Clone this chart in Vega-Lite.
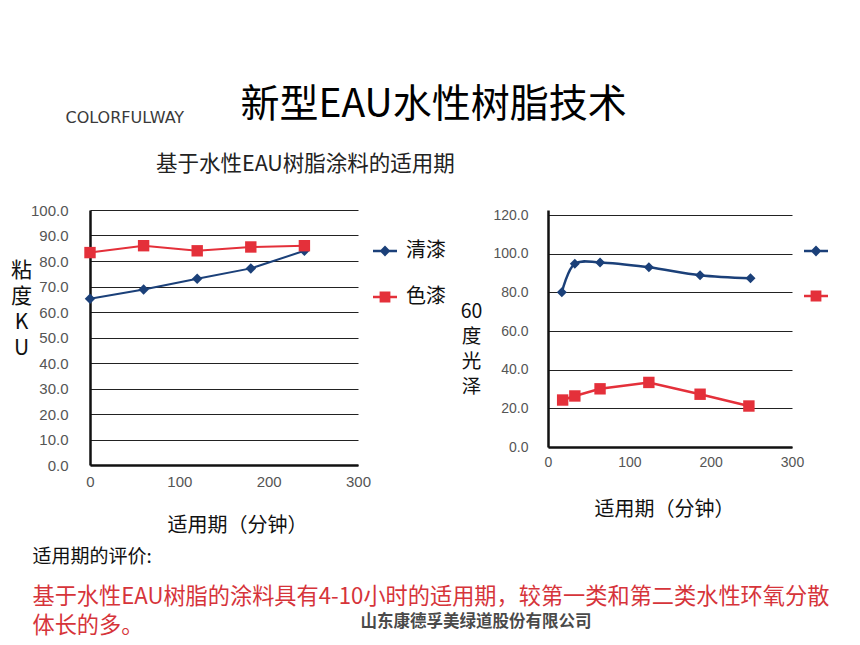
{
  "$schema": "https://vega.github.io/schema/vega-lite/v6.json",
  "background": "white",
  "padding": {"left": 10, "top": 85, "right": 0, "bottom": 0},
  "config": {
    "font": "Noto Sans CJK SC",
    "view": {"stroke": null},
    "axis": {
      "domainColor": "#111111",
      "domainWidth": 2.5,
      "gridColor": "#222222",
      "gridWidth": 1,
      "ticks": false,
      "tickSize": 0,
      "labelFlush": false,
      "labelColor": "#555555",
      "labelFont": "Liberation Sans",
      "titleFont": "Noto Sans CJK SC",
      "titleColor": "#111111",
      "titleFontWeight": "normal"
    },
    "legend": {"labelFont": "Noto Sans CJK SC", "labelFontSize": 20, "labelColor": "#111111"},
    "title": {"anchor": "start", "fontWeight": "normal"}
  },
  "title": {"text": "新型EAU水性树脂技术", "fontSize": 39, "color": "#000000", "dx": 230, "offset": -15, "anchor": "start"},
  "vconcat": [
    {
      "title": {"text": "COLORFULWAY", "font": "DejaVu Sans", "fontSize": 16, "color": "#3a3a3a", "dx": 55, "offset": 28, "anchor": "start"},
      "vconcat": [
        {
          "title": {"text": "山东康德孚美绿道股份有限公司", "orient": "bottom", "fontSize": 16.5, "fontWeight": "bold", "color": "#4a4a4a", "dx": 350, "offset": -23, "anchor": "start"},
          "vconcat": [
            {
              "title": {
                "text": "适用期的评价:",
                "orient": "bottom",
                "anchor": "start",
                "fontSize": 19,
                "color": "#111111",
                "dx": 22,
                "offset": 13,
                "subtitle": ["基于水性EAU树脂的涂料具有4-10小时的适用期，较第一类和第二类水性环氧分散", "体长的多。"],
                "subtitleFont": "Noto Sans CJK SC",
                "subtitleFontSize": 22.2,
                "subtitleColor": "#d6343a",
                "subtitleLineHeight": 29,
                "subtitlePadding": 19
              },
              "bounds": "flush",
              "spacing": 190,
              "resolve": {"scale": {"color": "independent", "x": "independent", "y": "independent"}, "legend": {"color": "independent"}},
              "hconcat": [
                {
                  "width": 268,
                  "height": 255,
                  "title": {"text": "基于水性EAU树脂涂料的适用期", "fontSize": 21.5, "color": "#222222", "frame": "group", "anchor": "start", "dx": 66, "offset": 28},
                  "data": {"values": [
                    {"t": 0, "v": 65.2, "s": "清漆"},
                    {"t": 60, "v": 68.8, "s": "清漆"},
                    {"t": 120, "v": 73.0, "s": "清漆"},
                    {"t": 180, "v": 77.1, "s": "清漆"},
                    {"t": 240, "v": 84.0, "s": "清漆"},
                    {"t": 0, "v": 83.3, "s": "色漆"},
                    {"t": 60, "v": 86.0, "s": "色漆"},
                    {"t": 120, "v": 84.0, "s": "色漆"},
                    {"t": 180, "v": 85.5, "s": "色漆"},
                    {"t": 240, "v": 86.0, "s": "色漆"}
                  ]},
                  "encoding": {
                    "x": {"field": "t", "type": "quantitative", "scale": {"domain": [0, 300], "nice": false},
                      "axis": {"values": [0, 100, 200, 300], "grid": false, "labelFontSize": 15, "labelPadding": 9,
                        "title": "适用期（分钟）", "titleFontSize": 20, "titleX": 147, "titleY": 60, "titleBaseline": "middle", "titleAlign": "center"}},
                    "y": {"field": "v", "type": "quantitative", "scale": {"domain": [0, 100], "nice": false},
                      "axis": {"values": [0, 10, 20, 30, 40, 50, 60, 70, 80, 90, 100], "format": ".1f", "labelFontSize": 15, "labelPadding": 22,
                        "title": ["粘", "度", "K", "U"], "titleAngle": 0, "titleFontSize": 21, "titleLineHeight": 26, "titleX": -69, "titleY": 49, "titleAlign": "center", "titleBaseline": "top"}}
                  },
                  "layer": [
                    {"transform": [{"filter": {"field": "s", "equal": "清漆"}}],
                      "mark": {"type": "line", "strokeWidth": 2, "color": "#1b4079"}},
                    {"transform": [{"filter": {"field": "s", "equal": "色漆"}}],
                      "mark": {"type": "line", "strokeWidth": 2, "color": "#e4303a"}},
                    {"transform": [{"filter": {"field": "s", "equal": "清漆"}}],
                      "mark": {"type": "point", "shape": "diamond", "filled": true, "opacity": 1, "size": 110},
                      "encoding": {"color": {"field": "s", "type": "nominal", "scale": {"domain": ["清漆"], "range": ["#1b4079"]},
                        "legend": {"orient": "none", "legendX": 283, "legendY": 29, "padding": 0, "title": null,
                          "symbolType": "M-1,-0.1H1V0.1H-1Z M0,-0.45L0.45,0L0,0.45L-0.45,0Z", "symbolSize": 576,
                          "symbolFillColor": "#1b4079", "symbolStrokeWidth": 0, "symbolOpacity": 1,
                          "labelOffset": 9, "labelFontSize": 20, "labelColor": "#111111"}}}},
                    {"transform": [{"filter": {"field": "s", "equal": "色漆"}}],
                      "mark": {"type": "point", "shape": "square", "filled": true, "opacity": 1, "size": 130},
                      "encoding": {"color": {"field": "s", "type": "nominal", "scale": {"domain": ["色漆"], "range": ["#e4303a"]},
                        "legend": {"orient": "none", "legendX": 283, "legendY": 75, "padding": 0, "title": null,
                          "symbolType": "M-1,-0.1H1V0.1H-1Z M-0.45,-0.45H0.45V0.45H-0.45Z", "symbolSize": 576,
                          "symbolFillColor": "#e4303a", "symbolStrokeWidth": 0, "symbolOpacity": 1,
                          "labelOffset": 9, "labelFontSize": 20, "labelColor": "#111111"}}}}
                  ],
                  "resolve": {"scale": {"color": "independent"}, "legend": {"color": "independent"}}
                },
                {
                  "width": 244,
                  "height": 237,
                  "data": {"values": [
                    {"t": 17, "v": 80.0, "s": "清漆"},
                    {"t": 33, "v": 94.8, "s": "清漆"},
                    {"t": 64, "v": 95.5, "s": "清漆"},
                    {"t": 124, "v": 93.0, "s": "清漆"},
                    {"t": 187, "v": 88.9, "s": "清漆"},
                    {"t": 249, "v": 87.3, "s": "清漆"},
                    {"t": 18, "v": 24.3, "s": "色漆"},
                    {"t": 33, "v": 26.4, "s": "色漆"},
                    {"t": 64, "v": 30.1, "s": "色漆"},
                    {"t": 124, "v": 33.4, "s": "色漆"},
                    {"t": 187, "v": 27.3, "s": "色漆"},
                    {"t": 247, "v": 21.2, "s": "色漆"}
                  ]},
                  "encoding": {
                    "x": {"field": "t", "type": "quantitative", "scale": {"domain": [0, 300], "nice": false},
                      "axis": {"values": [0, 100, 200, 300], "grid": false, "labelFontSize": 14, "labelPadding": 8,
                        "title": "适用期（分钟）", "titleFontSize": 20, "titleX": 116, "titleY": 62, "titleBaseline": "middle", "titleAlign": "center"}},
                    "y": {"field": "v", "type": "quantitative", "scale": {"domain": [0, 122.6], "nice": false},
                      "axis": {"values": [0, 20, 40, 60, 80, 100, 120], "format": ".1f", "labelFontSize": 14, "labelPadding": 20,
                        "title": ["60", "度", "光", "泽"], "titleAngle": 0, "titleFontSize": 19.5, "titleLineHeight": 25, "titleX": -77, "titleY": 92, "titleAlign": "center", "titleBaseline": "top"}}
                  },
                  "layer": [
                    {"transform": [{"filter": {"field": "s", "equal": "清漆"}}],
                      "mark": {"type": "line", "strokeWidth": 2.5, "interpolate": "catmull-rom", "color": "#1b4079"}},
                    {"transform": [{"filter": {"field": "s", "equal": "色漆"}}],
                      "mark": {"type": "line", "strokeWidth": 2.5, "color": "#e4303a"}},
                    {"transform": [{"filter": {"field": "s", "equal": "清漆"}}],
                      "mark": {"type": "point", "shape": "diamond", "filled": true, "opacity": 1, "size": 100},
                      "encoding": {"color": {"field": "s", "type": "nominal", "scale": {"domain": ["清漆"], "range": ["#1b4079"]},
                        "legend": {"orient": "none", "legendX": 256, "legendY": 29, "padding": 0, "title": null,
                          "symbolType": "M-1,-0.1H1V0.1H-1Z M0,-0.45L0.45,0L0,0.45L-0.45,0Z", "symbolSize": 576,
                          "symbolFillColor": "#1b4079", "symbolStrokeWidth": 0, "symbolOpacity": 1,
                          "labelOffset": 0, "labelExpr": "''"}}}},
                    {"transform": [{"filter": {"field": "s", "equal": "色漆"}}],
                      "mark": {"type": "point", "shape": "square", "filled": true, "opacity": 1, "size": 130},
                      "encoding": {"color": {"field": "s", "type": "nominal", "scale": {"domain": ["色漆"], "range": ["#e4303a"]},
                        "legend": {"orient": "none", "legendX": 256, "legendY": 74, "padding": 0, "title": null,
                          "symbolType": "M-1,-0.1H1V0.1H-1Z M-0.45,-0.45H0.45V0.45H-0.45Z", "symbolSize": 576,
                          "symbolFillColor": "#e4303a", "symbolStrokeWidth": 0, "symbolOpacity": 1,
                          "labelOffset": 0, "labelExpr": "''"}}}}
                  ],
                  "resolve": {"scale": {"color": "independent"}, "legend": {"color": "independent"}}
                }
              ]
            }
          ]
        }
      ]
    }
  ]
}
